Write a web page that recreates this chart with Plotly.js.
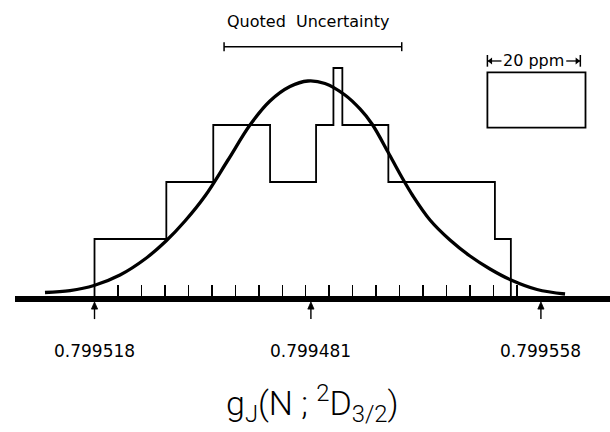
<!DOCTYPE html>
<html>
<head>
<meta charset="utf-8">
<script src="https://cdn.plot.ly/plotly-3.0.1.min.js"></script>
<style>html,body{margin:0;padding:0;background:#fff;}#chart{width:610px;height:432px;}</style>
</head>
<body>
<div id="chart"></div>
<script>
// ---- data (x in ppm from the left marker, y in counts) ----
const binEdges  = [0, 15.3, 25.3, 37.4, 47.2, 50.9, 52.8, 62.6, 85.3, 88.7];
const binCounts = [1, 2, 3, 2, 3, 4, 3, 2, 1];

const curveX = [-10.55, -5.22, -0.11, 5.43, 10.76, 15.23, 19.28, 23.54, 28.44, 33.12, 37.38, 41.64, 45.47, 49.1, 53.36, 56.56, 59.12, 62.52, 65.08, 67.85, 71.47, 75.73, 79.99, 84.26, 88.73, 94.27, 100.24];
const curveY = [0.061, 0.096, 0.184, 0.368, 0.649, 0.965, 1.316, 1.754, 2.386, 3.0, 3.421, 3.675, 3.772, 3.728, 3.526, 3.281, 3.018, 2.526, 2.14, 1.754, 1.333, 0.982, 0.702, 0.474, 0.281, 0.114, 0.035];

const tickPositions = [0, 5, 10, 15, 20, 25, 30, 35, 40, 45, 50, 55, 60, 65, 70, 75, 80, 85, 90];
const markerPositions = [0, 46.1, 95.1];
const markerLabels = ['0.799518', '0.799481', '0.799558'];

const uncertaintyRange = [27.6, 65.45];
const uncertaintyLabel = 'Quoted&nbsp;&nbsp;Uncertainty';
const scaleBarRange = [83.7, 103.5];
const scaleBoxX = [83.7, 104.6];
const scaleBoxY = [2.953, 3.925];
const scaleLabel = '20 ppm';
const axisTitle = 'g<sub>J</sub>(N ; <sup>2</sup>D<sub>3/2</sub>)';

// ---- build traces ----
const stepX = [binEdges[0]].concat(binEdges);
const stepY = [0].concat(binCounts, [0]);

const headOffset = 0.68;       // arrowhead centre offset along x (ppm) for the scale-bar arrows
const scaleY = 4.123;          // height of the scale-bar arrows
const traces = [
  {x: stepX, y: stepY, type: 'scatter', mode: 'lines',
   line: {shape: 'hv', color: '#000', width: 1.8}, hoverinfo: 'skip'},
  {x: curveX, y: curveY, type: 'scatter', mode: 'lines',
   line: {shape: 'spline', smoothing: 1, color: '#000', width: 3.3}, hoverinfo: 'skip'},
  // scale bar arrowheads
  {x: [scaleBarRange[0] + headOffset], y: [scaleY], type: 'scatter', mode: 'markers', cliponaxis: false,
   marker: {symbol: 'triangle-left', size: 6, color: '#000'}, hoverinfo: 'skip'},
  {x: [scaleBarRange[1] - headOffset], y: [scaleY], type: 'scatter', mode: 'markers', cliponaxis: false,
   marker: {symbol: 'triangle-right', size: 6, color: '#000'}, hoverinfo: 'skip'}
];

const yBar = 4.374, yBarTick = 0.079;
const shapes = [
  {type: 'line', xref: 'x', yref: 'y', x0: uncertaintyRange[0], x1: uncertaintyRange[1], y0: yBar, y1: yBar, line: {color: '#000', width: 1.5}},
  {type: 'line', xref: 'x', yref: 'y', x0: uncertaintyRange[0], x1: uncertaintyRange[0], y0: yBar - yBarTick, y1: yBar + yBarTick, line: {color: '#000', width: 1.5}},
  {type: 'line', xref: 'x', yref: 'y', x0: uncertaintyRange[1], x1: uncertaintyRange[1], y0: yBar - yBarTick, y1: yBar + yBarTick, line: {color: '#000', width: 1.5}},
  {type: 'rect', xref: 'x', yref: 'y', x0: scaleBoxX[0], x1: scaleBoxX[1], y0: scaleBoxY[0], y1: scaleBoxY[1], line: {color: '#000', width: 1.8}},
  {type: 'line', xref: 'x', yref: 'y', x0: scaleBarRange[0], x1: scaleBarRange[0], y0: 4.023, y1: 4.228, line: {color: '#000', width: 1.5}},
  {type: 'line', xref: 'x', yref: 'y', x0: scaleBarRange[1], x1: scaleBarRange[1], y0: 4.023, y1: 4.228, line: {color: '#000', width: 1.5}},
  {type: 'line', xref: 'x', yref: 'y', x0: scaleBarRange[0], x1: scaleBarRange[0] + 3.0, y0: scaleY, y1: scaleY, line: {color: '#000', width: 1.3}},
  {type: 'line', xref: 'x', yref: 'y', x0: scaleBarRange[1] - 3.0, x1: scaleBarRange[1], y0: scaleY, y1: scaleY, line: {color: '#000', width: 1.3}}
];
// arrows under the axis (shaft + filled head), x from the marker positions
const tipY = -0.021, baseY = -0.046, tailY = -0.081, halfW = 0.66;
markerPositions.forEach(p => {
  shapes.push({type: 'line', xref: 'x', yref: 'paper', x0: p, x1: p, y0: baseY + 0.003, y1: tailY,
    line: {color: '#000', width: 1.4}});
  shapes.push({type: 'path', xref: 'x', yref: 'paper',
    path: 'M ' + (p - halfW) + ',' + baseY + ' L ' + p + ',' + tipY + ' L ' + (p + halfW) + ',' + baseY + ' Z',
    fillcolor: '#000', line: {color: '#000', width: 0.8}});
});

const baseFont = {family: 'DejaVu Sans, Arial, sans-serif', color: '#000'};
const annotations = [];
markerPositions.forEach((p, i) => {
  annotations.push({x: p, y: -0.193, xref: 'x', yref: 'paper', yanchor: 'middle', xanchor: 'center',
    text: markerLabels[i], showarrow: false, font: Object.assign({}, baseFont, {size: 17})});
});
annotations.push({x: (uncertaintyRange[0] + uncertaintyRange[1]) / 2 - 1, y: 4.81, xref: 'x', yref: 'y',
  text: uncertaintyLabel, showarrow: false, font: Object.assign({}, baseFont, {size: 16})});
annotations.push({x: (scaleBarRange[0] + scaleBarRange[1]) / 2, y: scaleY, xref: 'x', yref: 'y',
  text: scaleLabel, showarrow: false, font: Object.assign({}, baseFont, {size: 16})});
annotations.push({x: 46.5, y: -0.376, xref: 'x', yref: 'paper', yanchor: 'middle', xanchor: 'center',
  text: axisTitle, showarrow: false,
  font: {family: 'Roboto, DejaVu Sans, Arial, sans-serif', size: 34, color: '#000', weight: 300}});

const layout = {
  width: 610, height: 432,
  margin: {l: 15, r: 0, t: 11, b: 136, pad: 0},
  paper_bgcolor: '#fff', plot_bgcolor: '#fff',
  showlegend: false,
  xaxis: {range: [-16.94, 109.82], showgrid: false, zeroline: false,
    showline: true, linewidth: 6, linecolor: '#000',
    tickmode: 'array', tickvals: tickPositions, ticks: 'inside', ticklen: 11, tickwidth: 1.5, tickcolor: '#000',
    showticklabels: false, fixedrange: true},
  yaxis: {range: [0, 5], visible: false, fixedrange: true},
  shapes: shapes,
  annotations: annotations
};

Plotly.newPlot('chart', traces, layout, {staticPlot: true, displayModeBar: false});
</script>
</body>
</html>
